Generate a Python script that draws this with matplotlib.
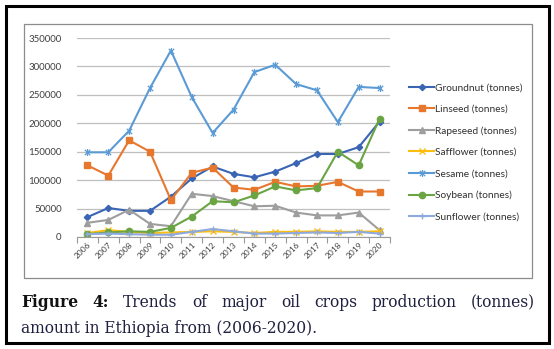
import matplotlib
matplotlib.use('Agg')
import matplotlib.pyplot as plt
from matplotlib.path import Path
from matplotlib.patches import Rectangle

years = ['2006', '2007', '2008', '2009', '2010', '2011', '2012', '2013',
         '2014', '2015', '2016', '2017', '2018', '2019', '2020']

groundnut = [35000, 51000, 46000, 46000, 71000, 103000, 124000, 111000,
             105000, 115000, 130000, 146000, 146000, 158000, 203000]
linseed = [126000, 108000, 170000, 150000, 65000, 113000, 122000, 87000,
           83000, 97000, 89000, 90000, 97000, 80000, 80000]
rapeseed = [25000, 30000, 48000, 23000, 19000, 76000, 72000, 63000,
            54000, 55000, 43000, 38000, 38000, 43000, 12000]
safflower = [7000, 12000, 9000, 7000, 8000, 9000, 10000, 9000,
             7000, 9000, 9000, 10000, 9000, 9000, 10000]
sesame = [149000, 149000, 187000, 262000, 328000, 246000, 183000, 224000,
          290000, 303000, 269000, 258000, 202000, 264000, 262000]
soybean = [5000, 8000, 10000, 9000, 16000, 36000, 63000, 61000,
           73000, 89000, 82000, 86000, 150000, 126000, 208000]
sunflower = [5000, 6000, 5000, 4000, 4000, 9000, 14000, 10000,
             6000, 6000, 7000, 8000, 7000, 9000, 6000]

names = ['Groundnut (tonnes)', 'Linseed (tonnes)', 'Rapeseed (tonnes)',
         'Safflower (tonnes)', 'Sesame (tonnes)', 'Soybean (tonnes)',
         'Sunflower (tonnes)']

# excel style "star" marker: an x with a vertical bar
star = Path([(-1, -1), (1, 1), (-1, 1), (1, -1), (0, -1.3), (0, 1.3)],
            [Path.MOVETO, Path.LINETO, Path.MOVETO, Path.LINETO, Path.MOVETO, Path.LINETO])

styles = [
    dict(color='#3a64b4', marker='D', ms=3.2),
    dict(color='#e8772e', marker='s', ms=4.5),
    dict(color='#9e9e9e', marker='^', ms=4.5),
    dict(color='#fdbd10', marker='x', ms=4.5, mew=1.0),
    dict(color='#5b9bd5', marker=star, ms=5, mew=0.9, mfc='none'),
    dict(color='#6aa443', marker='o', ms=4.5),
    dict(color='#8eaadc', marker='+', ms=5, mew=1.0),
]

plt.rcParams['font.family'] = ['Lato', 'DejaVu Sans']

W, H = 554, 349
fig = plt.figure(figsize=(W / 100, H / 100), dpi=100)

# frames
fig.patches.append(Rectangle((6 / W, 1 - 343 / H), 543 / W, 337 / H, transform=fig.transFigure,
                             fill=False, ec='black', lw=2.2))
fig.patches.append(Rectangle((24 / W, 1 - 278 / H), 508 / W, 254 / H, transform=fig.transFigure,
                             fill=False, ec='#8c8c8c', lw=0.9))

ax = fig.add_axes([77 / W, 1 - 237 / H, 313 / W, 199 / H])
x = list(range(len(years)))
series = [groundnut, linseed, rapeseed, safflower, sesame, soybean, sunflower]
for vals, name, st in zip(series, names, styles):
    ax.plot(x, vals, lw=1.5, label=name, **st)

ax.set_xlim(-0.5, len(years) - 0.5)
ax.set_ylim(0, 350000)
ax.set_yticks(range(0, 350001, 50000))
ax.set_yticklabels([str(v) for v in range(0, 350001, 50000)], fontsize=7, color='#404040')
ax.yaxis.grid(True, color='#bfbfbf', lw=0.9)
ax.set_axisbelow(True)
for s in ['top', 'right', 'left']:
    ax.spines[s].set_visible(False)
ax.spines['bottom'].set_color('#9a9a9a')
ax.tick_params(axis='y', length=0, pad=11)

ax.set_xticks(x)
ax.set_xticklabels(years, rotation=45, ha='right', rotation_mode='anchor', fontsize=6, color='#404040')
ax.tick_params(axis='x', which='major', length=0, pad=3)
ax.set_xticks([i - 0.5 for i in range(len(years) + 1)], minor=True)
ax.tick_params(axis='x', which='minor', length=4, color='#9a9a9a', width=0.8)

ax.legend(loc='upper left', bbox_to_anchor=(404 / W, 1 - 78 / H), bbox_transform=fig.transFigure,
          frameon=False, fontsize=7.3, handlelength=2.5, handletextpad=0.1,
          labelspacing=1.22, borderpad=0, labelcolor='#303030')

# caption, first line justified
r = fig.canvas.get_renderer()
line1 = [('Figure', 'bold'), ('4:', 'bold'), ('Trends', 'normal'), ('of', 'normal'),
         ('major', 'normal'), ('oil', 'normal'), ('crops', 'normal'),
         ('production', 'normal'), ('(tonnes)', 'normal')]
cap = dict(family='DejaVu Serif', fontsize=11.2)
words = []
for w, fw in line1:
    t = fig.text(0, 1 - 307 / H, w, fontweight=fw, color='#111111' if fw == 'bold' else '#202040', **cap)
    words.append(t)
widths = [t.get_window_extent(r).width for t in words]
left, right = 21, 535
gap = (right - left - sum(widths)) / (len(words) - 1)
xp = left
for t, wd in zip(words, widths):
    t.set_x(xp / W)
    xp += wd + gap
fig.text(21 / W, 1 - 333 / H, 'amount in Ethiopia from (2006-2020).', color='#202040', **cap)

fig.savefig('out.png', dpi=100)
